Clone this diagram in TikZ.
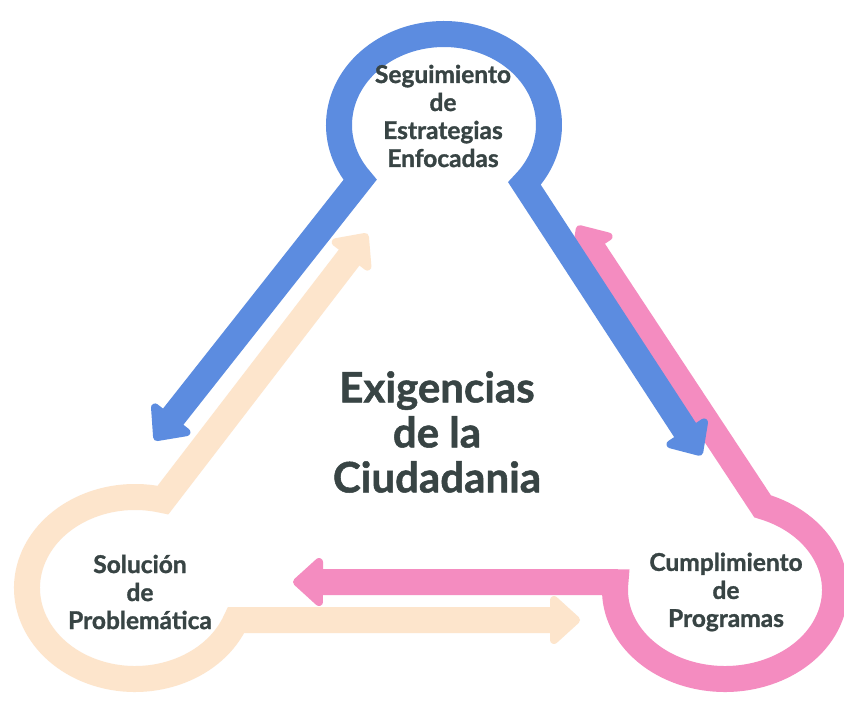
\documentclass[tikz,border=0pt]{standalone}
\usepackage{fontspec}
\setmainfont{Lato}[BoldFeatures={FakeBold=1.2}]
\usetikzlibrary{calc}
\definecolor{cblue}{RGB}{92,140,224}
\definecolor{cpink}{RGB}{244,140,192}
\definecolor{cpeach}{RGB}{253,229,204}
\definecolor{ctext}{RGB}{56,68,68}
\tikzset{
  shapeline/.style={line width=26pt, line cap=butt, line join=miter},
  tipfill/.style={line width=8pt, line join=round},
  smalllabel/.style={font=\bfseries\fontsize{24.5}{28}\selectfont, text=ctext, align=center, inner sep=0pt},
  biglabel/.style={font=\bfseries\fontsize{42}{45}\selectfont, text=ctext, align=center, inner sep=0pt},
}
% arrow head: #1 colour, #2 start coordinate, #3 tip coordinate, #4 name prefix
\newcommand\headat[4]{%
  \coordinate (#4a) at ($(#3)!5pt!(#2)$);
  \coordinate (#4k) at ($(#3)!27pt!(#2)$);
  \coordinate (#4l) at ($(#4k)!20pt!90:(#3)$);
  \coordinate (#4r) at ($(#4k)!20pt!-90:(#3)$);
  \filldraw[#1, tipfill] (#4a) -- (#4l) -- (#4r) -- cycle;
}
\begin{document}
\begin{tikzpicture}[x=1pt,y=-1pt]
\useasboundingbox (0,0) rectangle (844,704);
\fill[white] (0,0) rectangle (844,704);

% centres, ring ends and arrow tips
\coordinate (BC) at (444,125);
\coordinate (PC) at (725,590);
\coordinate (SC) at (135,588);

\coordinate (BA1) at ($(BC)+(143:105 and 91)$);
\coordinate (BA2) at ($(BC)+(40:105 and 91)$);
\coordinate (BT1) at (154,441);
\coordinate (BT2) at (702,456);

\coordinate (PA1) at ($(PC)+(-70:110 and 89)$);
\coordinate (PA2) at ($(PC)+(185:110 and 89)$);
\coordinate (PT1) at (577,225);
\coordinate (PT2) at (292,582);

\coordinate (SA1) at ($(SC)+(20.6:108 and 91)$);
\coordinate (SA2) at ($(SC)+(285:108 and 91)$);
\coordinate (ST1) at (581,620);
\coordinate (ST2) at (368,233);

% peach
\headat{cpeach}{SA1}{ST1}{s1}
\headat{cpeach}{SA2}{ST2}{s2}
\draw[shapeline,cpeach] (s1k) -- (SA1) arc[start angle=20.6, end angle=285, x radius=108, y radius=91] -- (s2k);

% pink
\headat{cpink}{PA1}{PT1}{p1}
\headat{cpink}{PA2}{PT2}{p2}
\draw[shapeline,cpink] (p1k) -- (PA1) arc[start angle=-70, end angle=185, x radius=110, y radius=89] -- (p2k);

% blue
\headat{cblue}{BA1}{BT1}{b1}
\headat{cblue}{BA2}{BT2}{b2}
\draw[shapeline,cblue] (b1k) -- (BA1) arc[start angle=143, end angle=400, x radius=105, y radius=91] -- (b2k);

% labels
\node[smalllabel] (tb) at (443,116) {Seguimiento\\de\\Estrategias\\Enfocadas};
\node[smalllabel] (tp) at (726,592) {Cumplimiento\\de\\Programas};
\node[smalllabel] (ts) at (140,592) {Solución\\de\\Problemática};
\node[biglabel] (tc) at (437,432) {Exigencias\\de la\\Ciudadania};
\end{tikzpicture}
\end{document}
